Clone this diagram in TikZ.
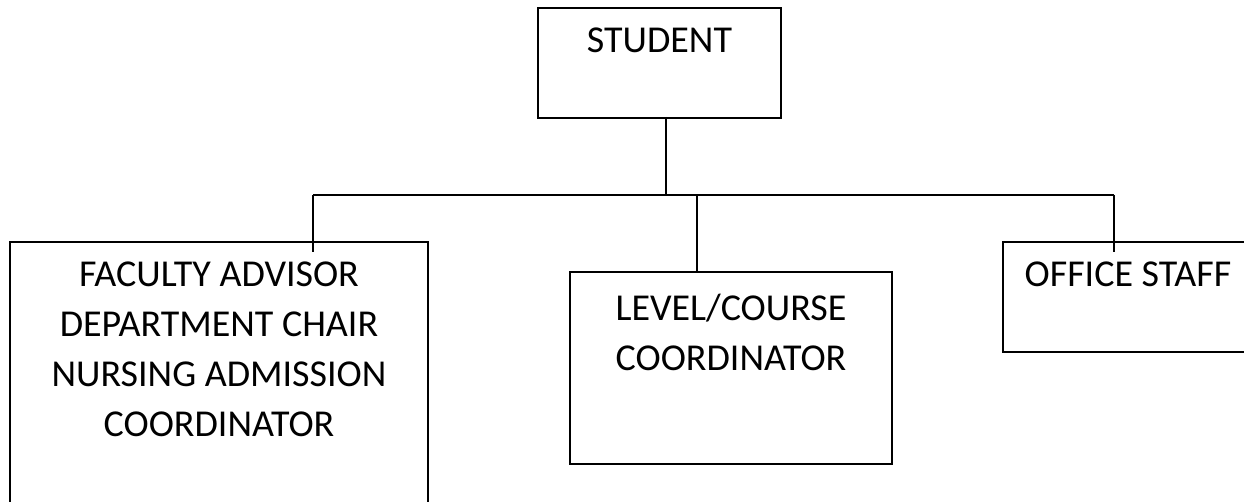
\documentclass[tikz,border=0pt]{standalone}
\usepackage{fontspec}
\setmainfont{Carlito}
\usetikzlibrary{positioning}

\begin{document}
\begin{tikzpicture}[x=1pt, y=-1pt,
  box/.style={rectangle, draw=black, line width=2pt, anchor=north west, inner sep=0pt},
  lbl/.style={anchor=north, inner sep=0pt, align=center, yshift=-21pt,
              font=\fontsize{38}{50}\selectfont},
  link/.style={line width=2pt}]
\useasboundingbox (0,0) rectangle (1244,502);

\node (student) [box, minimum width=243pt, minimum height=110pt, label={[lbl]90:STUDENT}] at (537,7) {};
\node (faculty) [box, minimum width=418pt, minimum height=280pt,
  label={[lbl]90:{FACULTY ADVISOR\\DEPARTMENT CHAIR\\NURSING ADMISSION\\COORDINATOR}}] at (9,241) {};
\node (level) [box, minimum width=322pt, minimum height=192pt,
  label={[lbl, yshift=-2pt]90:{LEVEL/COURSE\\COORDINATOR}}] at (569,271) {};
\node (office) [box, minimum width=250pt, minimum height=110pt, label={[lbl]90:OFFICE STAFF}] at (1002,241) {};

% bus line and drop ends
\coordinate (top) at (666,117);
\coordinate (mid) at (666,195);
\coordinate (busl) at (313,195);
\coordinate (busm) at (697,195);
\coordinate (busr) at (1114,195);
\coordinate (facend) at (313,252);
\coordinate (offend) at (1114,252);

\draw [link] (top) -- (mid);
\draw [link] (busl) -- (busr);
\draw [link] (busl) -- (facend);
\draw [link] (busm) -- (busm |- level.north);
\draw [link] (busr) -- (offend);
\end{tikzpicture}
\end{document}
